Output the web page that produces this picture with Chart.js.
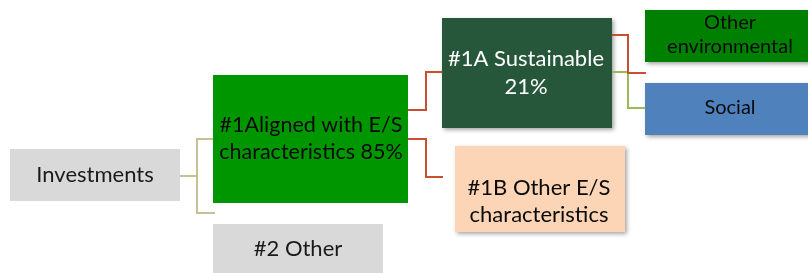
<!DOCTYPE html>
<html>
<head>
<meta charset="utf-8">
<script src="https://cdn.jsdelivr.net/npm/chart.js@4/dist/chart.umd.min.js"></script>
<style>
html,body{margin:0;padding:0;background:#fff;}
#wrap{width:808px;height:273px;position:relative;}
</style>
</head>
<body>
<div id="wrap"><canvas id="c"></canvas></div>
<script>
// ---- data ----
const nodeIds = ["inv", "aligned", "other2", "sust", "otherES", "env", "social"];
const nodeLabels = [
  ["Investments"],
  ["#1Aligned with E/S", "characteristics 85%"],
  ["#2 Other"],
  ["#1A Sustainable", "21%"],
  ["#1B Other E/S", "characteristics"],
  ["Other", "environmental"],
  ["Social"]
];
const parentOf = [null, "inv", "inv", "aligned", "aligned", "sust", "sust"];

// ---- layout (diagram coordinate units) & styles ----
const layout = {
  inv:     {x0: 10,  x1: 180, y0: 149, y1: 201, fill: "#d9d9d9", text: "#1a1a1a", size: 22, tx: 95,  ty: [175], shadow: false},
  aligned: {x0: 213, x1: 408, y0: 75,  y1: 203, fill: "#009600", text: "#0a0a0a", size: 21.5, tx: 311, ty: [125, 152], shadow: false},
  other2:  {x0: 213, x1: 383, y0: 224, y1: 274, fill: "#d9d9d9", text: "#1a1a1a", size: 22, tx: 298, ty: [249], shadow: false},
  sust:    {x0: 442, x1: 612, y0: 18,  y1: 128, fill: "#26573a", text: "#ffffff", size: 22, tx: 526, ty: [59, 87], shadow: true},
  otherES: {x0: 455, x1: 625, y0: 146, y1: 232, fill: "#fbd5b5", text: "#0a0a0a", size: 22, tx: 539, ty: [188, 215], shadow: true},
  env:     {x0: 645, x1: 815, y0: 10,  y1: 62,  fill: "#008000", text: "#0a0a0a", size: 20, tx: 730, ty: [23, 47], shadow: true},
  social:  {x0: 645, x1: 815, y0: 83,  y1: 135, fill: "#4f81bd", text: "#0a0a0a", size: 20, tx: 730, ty: [108], shadow: true}
};
// connector polylines (diagram units)
const connectors = [
  {color: "#c6c095", pts: [[180,176],[197,176]]},
  {color: "#c6c095", pts: [[213,139],[197,139],[197,213],[215,213]]},
  {color: "#c9502e", pts: [[408,110],[426,110],[426,72],[442,72]]},
  {color: "#c9502e", pts: [[408,139],[426,139],[426,177],[443,177]]},
  {color: "#c9502e", pts: [[612,35],[628,35],[628,73],[646,73]]},
  {color: "#9bbb59", pts: [[612,72],[628,72],[628,108],[645,108]]}
];

const datasets = connectors.map(c => ({
  type: "scatter",
  data: c.pts.map(p => ({x: p[0], y: p[1]})),
  showLine: true,
  borderColor: c.color,
  borderWidth: 2,
  pointRadius: 0,
  tension: 0,
  fill: false
}));

const boxPlugin = {
  id: "boxes",
  beforeDatasetsDraw(chart) {
    const ctx = chart.ctx, xs = chart.scales.x, ys = chart.scales.y;
    nodeIds.forEach((id) => {
      const L = layout[id];
      const x0 = xs.getPixelForValue(L.x0), x1 = xs.getPixelForValue(L.x1);
      const y0 = ys.getPixelForValue(L.y0), y1 = ys.getPixelForValue(L.y1);
      ctx.save();
      if (L.shadow) {
        ctx.shadowColor = "rgba(0,0,0,0.35)";
        ctx.shadowBlur = 4;
        ctx.shadowOffsetX = 2;
        ctx.shadowOffsetY = 2;
      }
      ctx.fillStyle = L.fill;
      ctx.fillRect(x0, y0, x1 - x0, y1 - y0);
      ctx.restore();
    });
  },
  afterDatasetsDraw(chart) {
    const ctx = chart.ctx, xs = chart.scales.x, ys = chart.scales.y;
    nodeIds.forEach((id, i) => {
      const L = layout[id];
      ctx.save();
      ctx.fillStyle = L.text;
      ctx.font = L.size + "px Lato, 'Open Sans', sans-serif";
      ctx.textAlign = "center";
      ctx.textBaseline = "middle";
      nodeLabels[i].forEach((line, k) => {
        ctx.fillText(line, xs.getPixelForValue(L.tx), ys.getPixelForValue(L.ty[k]));
      });
      ctx.restore();
    });
  }
};

new Chart(document.getElementById("c"), {
  type: "scatter",
  data: {datasets},
  options: {
    responsive: true,
    maintainAspectRatio: false,
    animation: false,
    layout: {padding: 0},
    plugins: {legend: {display: false}, tooltip: {enabled: false}},
    scales: {
      x: {type: "linear", min: 0, max: 808, display: false},
      y: {type: "linear", min: 0, max: 273, reverse: true, display: false}
    }
  },
  plugins: [boxPlugin]
});
</script>
</body>
</html>
